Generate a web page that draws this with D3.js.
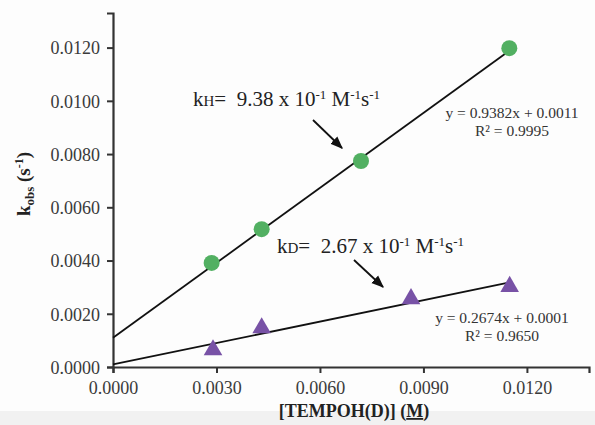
<!DOCTYPE html>
<html><head><meta charset="utf-8">
<script src="https://cdn.jsdelivr.net/npm/d3@7"></script>
<style>
html,body{margin:0;padding:0;background:#fdfdfd;}
svg{display:block;font-family:"Liberation Serif","Times New Roman",serif;}
svg text{font-family:"Liberation Serif","Times New Roman",serif;white-space:pre;}
</style></head>
<body>
<script>
// ---- data ----
const xH = [0.00286, 0.00431, 0.00719, 0.01149];
const yH = [0.00391, 0.00518, 0.00774, 0.01198];
const xD = [0.00290, 0.00431, 0.00864, 0.01150];
const yD = [0.00064, 0.00147, 0.00256, 0.00302];
const fitH = {slope: 0.9382, intercept: 0.0011};
const fitD = {slope: 0.2674, intercept: 0.0001};
const xTicks = [0, 0.003, 0.006, 0.009, 0.012];
const yTicks = [0, 0.002, 0.004, 0.006, 0.008, 0.010, 0.012];

const W = 595, H = 425;
const svg = d3.select("body").append("svg").attr("width", W).attr("height", H);
svg.append("rect").attr("width", W).attr("height", H).attr("fill", "#fdfdfd");
svg.append("rect").attr("x", 0).attr("y", 411).attr("width", W).attr("height", 14).attr("fill", "#f1f1f1");

const x = d3.scaleLinear().domain([0, 0.0138]).range([113, 589]);
const y = d3.scaleLinear().domain([0, 0.0133]).range([367, 13]);
const fmt = d3.format(".4f");
const axisColor = "#333";

const gx = svg.append("g").attr("transform", "translate(0,367)")
  .call(d3.axisBottom(x).tickValues(xTicks).tickFormat(fmt).tickSizeOuter(0).tickSize(6).tickPadding(6));
const gy = svg.append("g").attr("transform", "translate(113,0)")
  .call(d3.axisLeft(y).tickValues(yTicks).tickFormat(fmt).tickSizeOuter(0).tickSize(6).tickPadding(7));
[gx, gy].forEach(g => {
  g.attr("font-family", "Liberation Serif, Times New Roman, serif").attr("font-size", 18);
  g.select(".domain").attr("stroke", axisColor).attr("stroke-width", 2.2);
  g.selectAll(".tick line").attr("stroke", axisColor).attr("stroke-width", 2);
  g.selectAll(".tick text").attr("fill", "#3a3a3a").style("font-size", "18px");
});
gx.selectAll(".tick text").attr("dy", "0.85em");
gy.selectAll(".tick text").attr("dy", "0.35em");

// fit lines
function fitLine(fit, xs) {
  const x0 = 0, x1 = d3.max(xs);
  svg.append("line")
    .attr("x1", x(x0)).attr("y1", y(fit.slope * x0 + fit.intercept))
    .attr("x2", x(x1)).attr("y2", y(fit.slope * x1 + fit.intercept))
    .attr("stroke", "#111").attr("stroke-width", 1.8);
}
fitLine(fitH, xH);
fitLine(fitD, xD);

// markers
svg.append("g").selectAll("circle").data(xH.map((v, i) => [v, yH[i]])).join("circle")
  .attr("cx", d => x(d[0])).attr("cy", d => y(d[1])).attr("r", 8)
  .attr("fill", "#52b062");
const tri = d3.symbol().type(d3.symbolTriangle).size(150);
svg.append("g").selectAll("path").data(xD.map((v, i) => [v, yD[i]])).join("path")
  .attr("d", tri).attr("transform", d => `translate(${x(d[0])},${y(d[1])})`)
  .attr("fill", "#7852a6");

// arrows
const defs = svg.append("defs");
defs.append("marker").attr("id", "ah").attr("viewBox", "0 0 10 10").attr("refX", 9).attr("refY", 5)
  .attr("markerWidth", 7).attr("markerHeight", 7).attr("orient", "auto")
  .append("path").attr("d", "M0,1 L10,5 L0,9 z").attr("fill", "#111");
[[313, 120, 342, 148], [354, 260, 383, 287]].forEach(a => {
  svg.append("line").attr("x1", a[0]).attr("y1", a[1]).attr("x2", a[2]).attr("y2", a[3])
    .attr("stroke", "#111").attr("stroke-width", 1.8).attr("marker-end", "url(#ah)");
});

// rate constant annotations
function rateLabel(xp, yp, sub, val) {
  const t = svg.append("text").attr("x", xp).attr("y", yp).attr("fill", "#222").style("font-size", "21px");
  t.append("tspan").text("k");
  t.append("tspan").text(sub).style("font-size", "15px");
  t.append("tspan").text("=  " + val + " x 10");
  t.append("tspan").text("-1").style("font-size", "13px").attr("dy", "-7");
  t.append("tspan").text(" M").attr("dy", "7");
  t.append("tspan").text("-1").style("font-size", "13px").attr("dy", "-7");
  t.append("tspan").text("s").attr("dy", "7");
  t.append("tspan").text("-1").style("font-size", "13px").attr("dy", "-7");
}
rateLabel(193, 106, "H", "9.38");
rateLabel(277, 253, "D", "2.67");

// equations
function eqLabel(cx, yb, fit, r2) {
  svg.append("text").attr("x", cx).attr("y", yb).attr("text-anchor", "middle").attr("fill", "#333")
    .style("font-size", "15.5px").text(`y = ${fit.slope.toFixed(4)}x + ${fit.intercept.toFixed(4)}`);
  svg.append("text").attr("x", cx).attr("y", yb + 18).attr("text-anchor", "middle").attr("fill", "#333")
    .style("font-size", "15.5px").text(`R² = ${r2}`);
}
eqLabel(512, 118, fitH, "0.9995");
eqLabel(502, 323, fitD, "0.9650");

// axis titles
const yt = svg.append("text").attr("transform", "translate(30,184) rotate(-90)")
  .attr("text-anchor", "middle").attr("fill", "#222").style("font-size", "19px").style("font-weight", "bold");
yt.append("tspan").text("k");
yt.append("tspan").text("obs").style("font-size", "13px").attr("dy", "4");
yt.append("tspan").text(" (s").attr("dy", "-4");
yt.append("tspan").text("-1").style("font-size", "12px").attr("dy", "-7");
yt.append("tspan").text(")").attr("dy", "7");

const xt = svg.append("text").attr("x", 354).attr("y", 417).attr("text-anchor", "middle")
  .attr("fill", "#222").style("font-size", "18px").style("font-weight", "bold");
xt.append("tspan").text("[TEMPOH(D)] (");
xt.append("tspan").text("M").style("text-decoration", "underline");
xt.append("tspan").text(")");
</script>
</body></html>
